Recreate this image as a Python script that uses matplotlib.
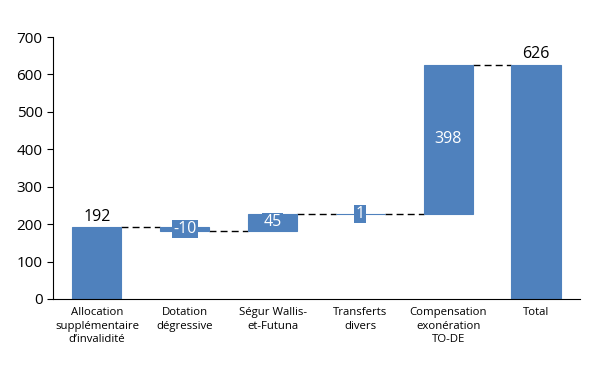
import matplotlib
matplotlib.use("Agg")
import matplotlib.pyplot as plt

categories = ["Allocation\nsupplémentaire\nd\u2019invalidité", "Dotation\ndégressive",
              "Ségur Wallis-\net-Futuna", "Transferts\ndivers",
              "Compensation\nexonération\nTO-DE", "Total"]
values = [192, -10, 45, 1, 398]
total = 626
labels = ["192", "-10", "45", "1", "398", "626"]

color = "#4F81BD"
plt.rcParams['font.family'] = ['Open Sans', 'DejaVu Sans']

fig = plt.figure(figsize=(5.99, 3.75), dpi=100)
ax = fig.add_axes([0.0885, 0.2027, 0.8795, 0.6986])

# bottoms and heights for the waterfall
bottoms = []
heights = []
run = 0
for v in values:
    if v >= 0:
        bottoms.append(run)
        heights.append(v)
    else:
        bottoms.append(run + v)
        heights.append(-v)
    run += v
bottoms.append(0)
heights.append(total)

w = 0.56
x = list(range(len(categories)))
ax.bar(x, heights, bottom=bottoms, width=w, color=color, edgecolor=color,
       linewidth=0.8, zorder=2)

# dashed connectors
run = 0
levels = []
for v in values:
    run += v
    levels.append(run)
for i, lev in enumerate(levels):
    ax.plot([i + w / 2, i + 1 - w / 2], [lev, lev], color="black", lw=1,
            ls=(0, (5, 3)), zorder=1)

# value labels
for i in range(len(categories)):
    if i == 0 or i == len(categories) - 1:
        ax.text(i, bottoms[i] + heights[i] + 7, labels[i], ha="center", va="bottom",
                fontsize=11.5, color="black")
    else:
        mid = bottoms[i] + heights[i] / 2
        ax.text(i, mid, labels[i], ha="center", va="center", fontsize=11.5,
                color="white", zorder=3,
                bbox=dict(boxstyle="square,pad=0.08", fc=color, ec="none"))

ax.set_xlim(-0.5, 5.5)
ax.set_ylim(0, 700)
ax.set_yticks(range(0, 701, 100))
ax.set_xticks(x)
ax.set_xticklabels(categories, fontsize=8.2, linespacing=1.3)
ax.tick_params(axis="x", length=0, pad=6)
ax.tick_params(axis="y", labelsize=11, length=4, direction="out")
ax.spines["top"].set_visible(False)
ax.spines["right"].set_visible(False)

fig.savefig("out.png", dpi=100)
